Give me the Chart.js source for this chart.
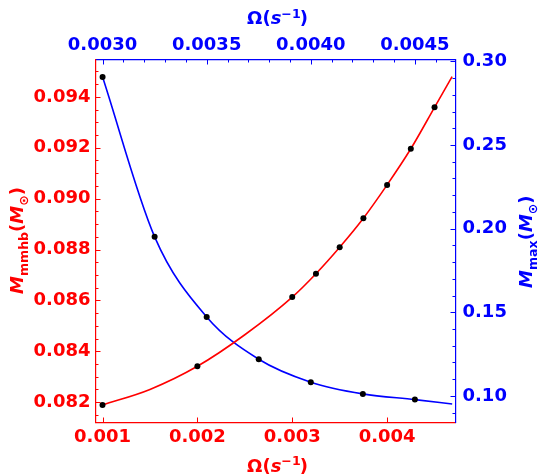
<!DOCTYPE html>
<html><head><meta charset="utf-8">
<script src="https://cdn.jsdelivr.net/npm/chart.js@4"></script>
<style>html,body{margin:0;padding:0;background:#fff;}#wrap{width:542px;height:475px;}</style>
</head><body><div id="wrap"><canvas id="c" width="542" height="475"></canvas></div>
<script>
// ---- data ----
const redX = [0.001, 0.002, 0.003, 0.00325, 0.0035, 0.00375, 0.004, 0.00425, 0.0045];
const redY = [0.08189, 0.08341, 0.08613, 0.08705, 0.08809, 0.08923, 0.09054, 0.09196, 0.09359];
// fitted curve
const redCurveX = [0.001, 0.0015, 0.002, 0.0025, 0.003, 0.00325, 0.0035, 0.00375, 0.004, 0.00425, 0.0045, 0.004685];
const redCurveY = [0.08189, 0.0825, 0.08341, 0.08465, 0.08613, 0.08705, 0.08809, 0.08923, 0.09054, 0.09196, 0.09359, 0.0948];
const blueX = [0.003, 0.00325, 0.0035, 0.00375, 0.004, 0.00425, 0.0045];
const blueY = [0.2906, 0.1951, 0.1472, 0.1219, 0.1082, 0.1012, 0.0978];
const blueCurveX = [0.003, 0.00325, 0.0035, 0.00375, 0.004, 0.00425, 0.0045, 0.004679];
const blueCurveY = [0.2906, 0.1951, 0.1472, 0.1219, 0.1082, 0.1012, 0.0978, 0.0952];

const bottomTicks = [0.001, 0.002, 0.003, 0.004];
const topTicks = [0.0030, 0.0035, 0.0040, 0.0045];
const leftTicks = [0.082, 0.084, 0.086, 0.088, 0.090, 0.092, 0.094];
const rightTicks = [0.10, 0.15, 0.20, 0.25, 0.30];
const bottomLabels = ['0.001', '0.002', '0.003', '0.004'];
const topLabels = ['0.0030', '0.0035', '0.0040', '0.0045'];
const leftLabels = ['0.082', '0.084', '0.086', '0.088', '0.090', '0.092', '0.094'];
const rightLabels = ['0.10', '0.15', '0.20', '0.25', '0.30'];

const RED = '#ff0000', BLUE = '#0000ff';
const FAM = '"DejaVu Sans"';
const B18 = 'bold 18px ' + FAM, BI18 = 'italic bold 18px ' + FAM, B13 = 'bold 12.6px ' + FAM;

function range(a, b, step) { const out = []; const n = Math.round((b - a) / step); for (let i = 0; i <= n; i++) out.push(a + i * step); return out; }
const leftMinor = range(0.0815, 0.095, 0.0005);
const topMinor = range(0.0030, 0.0046, 0.0001);
const rightMinor = range(0.09, 0.30, 0.01);

const pts = (xs, ys) => xs.map((x, i) => ({x: x, y: ys[i]}));

function tickFont() { return {family: FAM, size: 18, weight: 'bold', lineHeight: 1.2}; }
function fixTicks(vals) { return s => { s.ticks = vals.map(v => ({value: v})); }; }

function richWidth(ctx, parts) { let w = 0; for (const p of parts) { ctx.font = p.f; w += ctx.measureText(p.t).width + (p.k || 0); } return w; }
function drawRich(ctx, parts, cx, baseY, color) {
  const w = richWidth(ctx, parts); let x = cx - w / 2;
  ctx.fillStyle = color; ctx.textBaseline = 'alphabetic'; ctx.textAlign = 'left';
  for (const p of parts) { ctx.font = p.f; ctx.fillText(p.t, x, baseY + (p.dy || 0)); x += ctx.measureText(p.t).width + (p.k || 0); }
}
const omegaTitle = [{t: 'Ω(', f: B18}, {t: 's', f: BI18}, {t: '−1', f: B13, dy: -6.5, k: -1}, {t: ')', f: B18}];
const leftTitle = [{t: 'M', f: BI18}, {t: 'mmhb', f: B13, dy: 5.5}, {t: '(', f: B18}, {t: 'M', f: BI18}, {t: '⊙', f: B13, dy: 5.5}, {t: ')', f: B18}];
const rightTitle = [{t: 'M', f: BI18}, {t: 'max', f: B13, dy: 5.5}, {t: '(', f: B18}, {t: 'M', f: BI18}, {t: '⊙', f: B13, dy: 5.5}, {t: ')', f: B18}];

const decor = {
  id: 'decor',
  afterDraw(chart) {
    const ctx = chart.ctx, a = chart.chartArea, S = chart.scales;
    ctx.save();
    ctx.lineWidth = 1;
    function vt(scale, vals, len, color, edge, dir) {
      ctx.strokeStyle = color; ctx.beginPath();
      for (const v of vals) {
        const p = Math.round(scale.getPixelForValue(v)) + 0.5;
        if (p < a.left - 0.5 || p > a.right + 0.5) continue;
        ctx.moveTo(p, edge); ctx.lineTo(p, edge + dir * len);
      }
      ctx.stroke();
    }
    function ht(scale, vals, len, color, edge, dir) {
      ctx.strokeStyle = color; ctx.beginPath();
      for (const v of vals) {
        const p = Math.round(scale.getPixelForValue(v)) + 0.5;
        if (p < a.top - 0.5 || p > a.bottom + 0.5) continue;
        ctx.moveTo(edge, p); ctx.lineTo(edge + dir * len, p);
      }
      ctx.stroke();
    }
    vt(S.x, bottomTicks, 5, RED, a.bottom, -1);
    vt(S.x2, topTicks, 5, BLUE, a.top, 1);
    vt(S.x2, topMinor, 3, BLUE, a.top, 1);
    ht(S.y, leftTicks, 5, RED, a.left, 1);
    ht(S.y, leftMinor, 3, RED, a.left, 1);
    ht(S.y2, rightTicks, 5, BLUE, a.right, -1);
    ht(S.y2, rightMinor, 3, BLUE, a.right, -1);

    const cx = (a.left + a.right) / 2 + 2;
    drawRich(ctx, omegaTitle, cx, 24, BLUE);
    drawRich(ctx, omegaTitle, cx, 471.5, RED);
    ctx.save(); ctx.translate(22.5, 240.5); ctx.rotate(-Math.PI / 2); drawRich(ctx, leftTitle, 0, 0, RED); ctx.restore();
    ctx.save(); ctx.translate(531.5, 241.7); ctx.rotate(-Math.PI / 2); drawRich(ctx, rightTitle, 0, 0, BLUE); ctx.restore();
    ctx.restore();
  }
};

new Chart(document.getElementById('c'), {
  type: 'scatter',
  data: {
    datasets: [
      {data: pts(redCurveX, redCurveY), xAxisID: 'x', yAxisID: 'y', showLine: true, borderColor: RED, borderWidth: 1.6, pointRadius: 0, cubicInterpolationMode: 'monotone', fill: false, order: 2},
      {data: pts(blueCurveX, blueCurveY), xAxisID: 'x2', yAxisID: 'y2', showLine: true, borderColor: BLUE, borderWidth: 1.6, pointRadius: 0, cubicInterpolationMode: 'monotone', fill: false, order: 2},
      {data: pts(redX, redY), xAxisID: 'x', yAxisID: 'y', pointRadius: 3, pointBackgroundColor: '#000', pointBorderWidth: 0, order: 1},
      {data: pts(blueX, blueY), xAxisID: 'x2', yAxisID: 'y2', pointRadius: 3, pointBackgroundColor: '#000', pointBorderWidth: 0, order: 1}
    ]
  },
  options: {
    responsive: false, animation: false, devicePixelRatio: 1,
    layout: {padding: 0},
    plugins: {legend: {display: false}, tooltip: {enabled: false}},
    scales: {
      x: {type: 'linear', position: 'bottom', min: 0.000926, max: 0.004721,
        afterBuildTicks: fixTicks(bottomTicks), afterFit: s => { s.height = 52.5; },
        grid: {display: false, drawTicks: false, tickLength: 0},
        border: {display: true, color: RED, width: 1.2},
        ticks: {color: RED, font: tickFont(), padding: 4.5, autoSkip: false, maxRotation: 0, minRotation: 0, callback: (v, i) => bottomLabels[i]}},
      x2: {type: 'linear', position: 'top', min: 0.002966, max: 0.004695,
        afterBuildTicks: fixTicks(topTicks), afterFit: s => { s.height = 59.5; },
        grid: {display: false, drawTicks: false, tickLength: 0},
        border: {display: true, color: BLUE, width: 1.2},
        ticks: {color: BLUE, font: tickFont(), padding: 3, autoSkip: false, maxRotation: 0, minRotation: 0, callback: (v, i) => topLabels[i]}},
      y: {type: 'linear', position: 'left', min: 0.0812, max: 0.09547,
        afterBuildTicks: fixTicks(leftTicks), afterFit: s => { s.width = 95.5; },
        grid: {display: false, drawTicks: false, tickLength: 0},
        border: {display: true, color: RED, width: 1.2},
        ticks: {color: RED, font: tickFont(), padding: 5, autoSkip: false, callback: (v, i) => leftLabels[i]}},
      y2: {type: 'linear', position: 'right', min: 0.0841, max: 0.3011,
        afterBuildTicks: fixTicks(rightTicks), afterFit: s => { s.width = 86.5; },
        grid: {display: false, drawTicks: false, tickLength: 0},
        border: {display: true, color: BLUE, width: 1.2},
        ticks: {color: BLUE, font: tickFont(), padding: 7, autoSkip: false, callback: (v, i) => rightLabels[i]}}
    }
  },
  plugins: [decor]
});
</script></body></html>
